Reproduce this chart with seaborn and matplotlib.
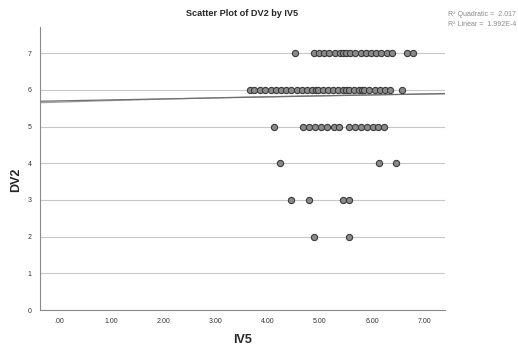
import numpy as np
import pandas as pd
import matplotlib
matplotlib.use("Agg")
import matplotlib.pyplot as plt
import seaborn as sns

# ---- data ----
iv5_dv7 = [4.52, 4.88, 4.98, 5.08, 5.18, 5.28, 5.38, 5.45, 5.50, 5.58, 5.68, 5.78,
           5.88, 5.98, 6.08, 6.18, 6.28, 6.38, 6.67, 6.79]
iv5_dv6 = [3.65, 3.73, 3.85, 3.95, 4.05, 4.15, 4.25, 4.35, 4.45, 4.55, 4.65, 4.75,
           4.85, 4.93, 4.97, 5.05, 5.15, 5.25, 5.35, 5.45, 5.50, 5.55, 5.65, 5.75,
           5.80, 5.85, 5.95, 6.05, 6.15, 6.25, 6.35, 6.58]
iv5_dv5 = [4.12, 4.67, 4.78, 4.90, 5.02, 5.14, 5.26, 5.37,
           5.56, 5.67, 5.78, 5.90, 6.01, 6.12, 6.23]
iv5_dv4 = [4.23, 6.13, 6.46]
iv5_dv3 = [4.45, 4.79, 5.45, 5.56]
iv5_dv2 = [4.89, 5.56]

dv_levels = [7, 6, 5, 4, 3, 2]
iv_groups = [iv5_dv7, iv5_dv6, iv5_dv5, iv5_dv4, iv5_dv3, iv5_dv2]

# fit-line coefficients (estimated from the reference lines; full data has hidden overlaps)
linear_coef = [5.70, 0.027]                 # a + b*x
quadratic_coef = [5.667, 0.0451, -0.0020]   # a + b*x + c*x^2

x_ticks = [0, 1, 2, 3, 4, 5, 6, 7]
x_ticklabels = [".00", "1.00", "2.00", "3.00", "4.00", "5.00", "6.00", "7.00"]
y_ticks = [0, 1, 2, 3, 4, 5, 6, 7]

r2_quadratic_text = "R\u00b2 Quadratic =  2.017"
r2_linear_text = "R\u00b2 Linear =  1.992E-4"

rows = []
for dv, ivs in zip(dv_levels, iv_groups):
    for v in ivs:
        rows.append({"IV5": v, "DV2": dv})
df = pd.DataFrame(rows)

sns.set_theme(style="white")
plt.rcParams["font.family"] = ["Liberation Sans", "DejaVu Sans"]

fig = plt.figure(figsize=(5.18, 3.52), dpi=100)
ax = fig.add_axes([0.077, 0.119, 0.782, 0.804])

xmin, xmax = -0.38, 7.4
ax.set_xlim(xmin, xmax)
ax.set_ylim(0, 7.71)

for yt in y_ticks:
    ax.axhline(yt, color="#c8c8c8", lw=0.8, zorder=0)

# fit lines
xs = np.linspace(xmin, xmax, 200)
fit_df = pd.DataFrame({
    "x": xs,
    "quad": quadratic_coef[0] + quadratic_coef[1] * xs + quadratic_coef[2] * xs ** 2,
    "lin": linear_coef[0] + linear_coef[1] * xs,
})
sns.lineplot(data=fit_df, x="x", y="quad", ax=ax, color="#a0a0a0", lw=0.9, zorder=1)
sns.lineplot(data=fit_df, x="x", y="lin", ax=ax, color="#6e6e6e", lw=0.9, zorder=1)

sns.scatterplot(data=df, x="IV5", y="DV2", ax=ax, s=20, color="#8a8a8a",
                edgecolor="#3a3a3a", linewidth=0.8, zorder=3)

ax.set_xlim(xmin, xmax)
ax.set_ylim(0, 7.71)
ax.set_xticks(x_ticks)
ax.set_xticklabels(x_ticklabels)
ax.set_yticks(y_ticks)
ax.tick_params(axis="both", length=0, labelsize=5, colors="#333333")
ax.tick_params(axis="x", pad=6)
ax.tick_params(axis="y", pad=6)

for s in ["top", "right"]:
    ax.spines[s].set_visible(False)
for s in ["left", "bottom"]:
    ax.spines[s].set_color("#8a8a8a")
    ax.spines[s].set_linewidth(0.8)

ax.set_xlabel("IV5", fontsize=9, fontweight="bold", labelpad=6)
ax.set_ylabel("DV2", fontsize=9, fontweight="bold")
ax.yaxis.set_label_coords(-0.045, 0.46)
ax.set_title("Scatter Plot of DV2 by IV5", fontsize=6.6, fontweight="bold", pad=8)

fig.text(448 / 518, 1 - 14 / 352, r2_quadratic_text, fontsize=5, color="#8a8a8a",
         va="center", ha="left")
fig.text(448 / 518, 1 - 25 / 352, r2_linear_text, fontsize=5, color="#8a8a8a",
         va="center", ha="left")

fig.savefig("out.png", dpi=100)
